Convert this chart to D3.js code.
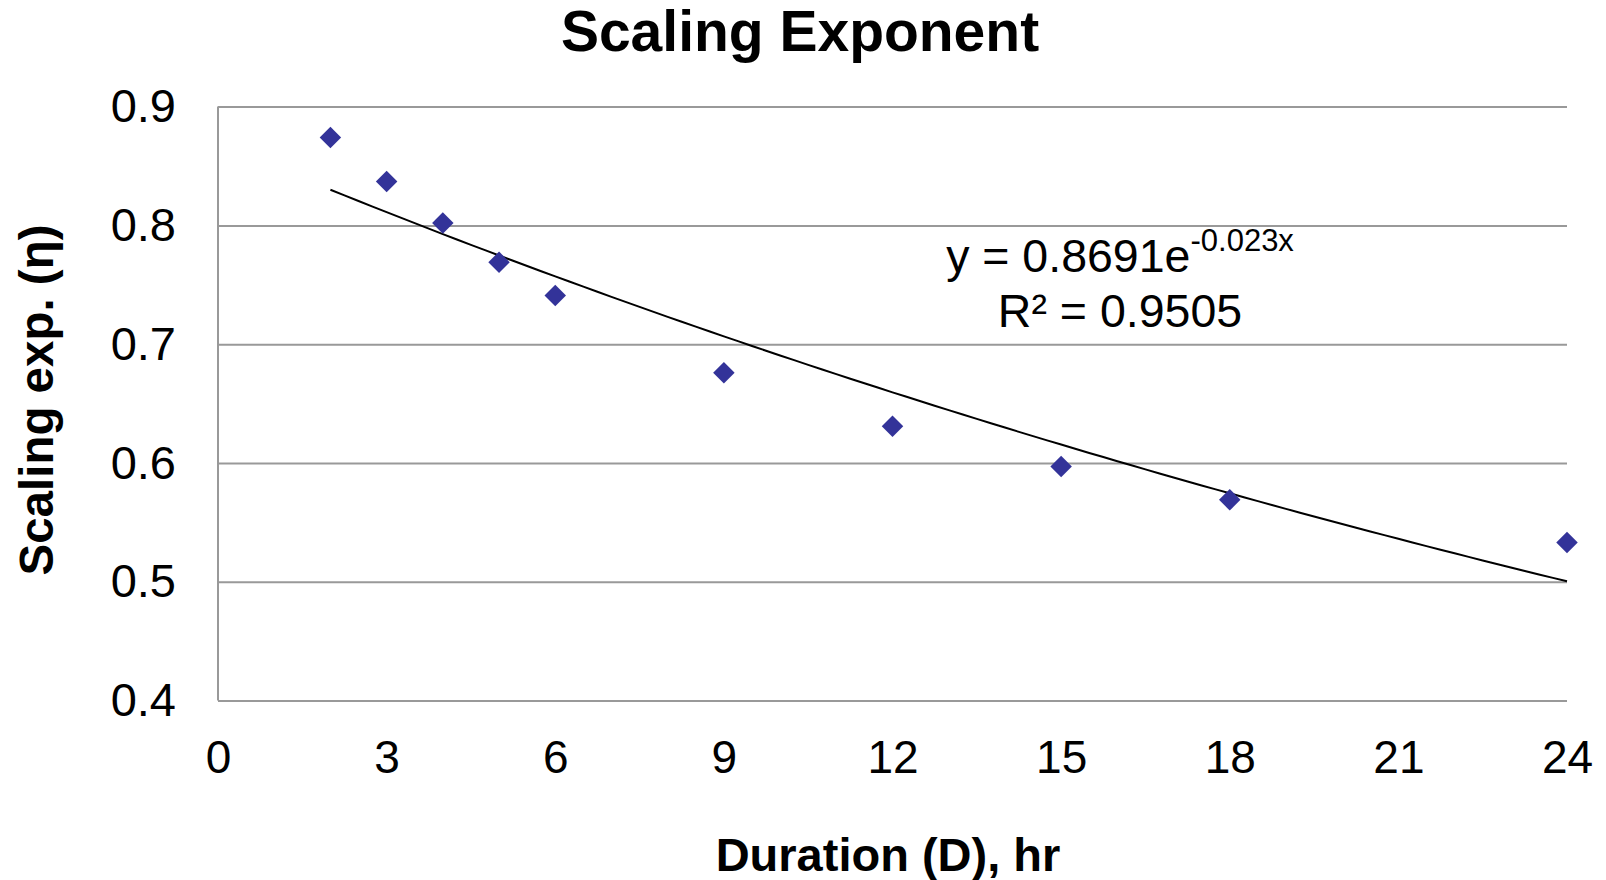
<!DOCTYPE html>
<html>
<head>
    <meta charset="utf-8">
    <title>Scaling Exponent</title>
    <script src="https://d3js.org/d3.v7.min.js"></script>
    <style>
        body { margin: 0px; background: #fff; }
        text { font-family: "Liberation Sans", Arial, sans-serif; }
    </style>
</head>
<body>
<svg width="1606" height="880"></svg>
<script>

    // duration (hr) and scaling exponent
    var durations = [2, 3, 4, 5, 6, 9, 12, 15, 18, 24];
    var exponents = [0.874, 0.837, 0.802, 0.769, 0.741, 0.676, 0.631, 0.597, 0.569, 0.533];
    var xTicks = [0, 3, 6, 9, 12, 15, 18, 21, 24];
    var yTicks = [0.4, 0.5, 0.6, 0.7, 0.8, 0.9];
    // exponential trendline y = a * e^(b x)
    var trendA = 0.8691, trendB = -0.023;

    var svg = d3.select("svg"),
        plotL = 218, plotR = 1567, plotT = 106.6, plotB = 700.6;

    var x = d3.scaleLinear().domain([0, 24]).range([plotL, plotR]),
        y = d3.scaleLinear().domain([0.4, 0.9]).range([plotB, plotT]);

    // gridlines + y labels
    var yAxis = svg.append("g")
        .attr("transform", "translate(" + plotL + ",0)")
        .call(d3.axisLeft(y).tickValues(yTicks).tickSize(-(plotR - plotL)).tickPadding(42)
            .tickFormat(d3.format(".1f")));
    yAxis.select(".domain").remove();
    yAxis.selectAll("line").attr("stroke", "#999").attr("stroke-width", 2);
    yAxis.selectAll("text").attr("font-size", 47).attr("fill", "#000");

    svg.append("line")
        .attr("x1", plotL).attr("x2", plotL).attr("y1", plotT).attr("y2", plotB)
        .attr("stroke", "#999").attr("stroke-width", 2);

    var xAxis = svg.append("g")
        .attr("transform", "translate(0," + plotB + ")")
        .call(d3.axisBottom(x).tickValues(xTicks).tickSize(0).tickPadding(40));
    xAxis.select(".domain").remove();
    xAxis.selectAll("text").attr("font-size", 46).attr("fill", "#000");

    // trendline
    var trendData = d3.range(2, 24.01, 0.25).map(function (d){
        return [d, trendA * Math.exp(trendB * d)];
    });
    svg.append("path")
        .datum(trendData)
        .attr("fill", "none")
        .attr("stroke", "#000")
        .attr("stroke-width", 2)
        .attr("d", d3.line().x(function (d){ return x(d[0]); }).y(function (d){ return y(d[1]); }));

    // markers
    var diamond = d3.symbol().type(d3.symbolSquare).size(230);
    svg.selectAll(".pt")
        .data(durations)
        .enter()
        .append("path")
        .attr("class", "pt")
        .attr("d", diamond)
        .attr("fill", "#333399")
        .attr("transform", function (d, i){
            return "translate(" + x(d) + "," + y(exponents[i]) + ") rotate(45)";
        });

    // equation
    var eq = svg.append("text")
        .attr("x", 1120).attr("y", 272)
        .attr("text-anchor", "middle")
        .attr("font-size", 46.5);
    eq.append("tspan").text("y = 0.8691e");
    eq.append("tspan").attr("font-size", 31).attr("dy", -21).text("-0.023x");
    svg.append("text")
        .attr("x", 1120).attr("y", 327)
        .attr("text-anchor", "middle")
        .attr("font-size", 46.5)
        .text("R² = 0.9505");

    // titles
    svg.append("text")
        .attr("x", 800).attr("y", 51)
        .attr("text-anchor", "middle")
        .attr("font-size", 57).attr("font-weight", "bold")
        .text("Scaling Exponent");

    svg.append("text")
        .attr("x", 888).attr("y", 871)
        .attr("text-anchor", "middle")
        .attr("font-size", 47).attr("font-weight", "bold")
        .text("Duration (D), hr");

    svg.append("text")
        .attr("transform", "translate(53,400) rotate(-90)")
        .attr("text-anchor", "middle")
        .attr("font-size", 47.5).attr("font-weight", "bold")
        .text("Scaling exp. (η)");

</script>
</body>
</html>
